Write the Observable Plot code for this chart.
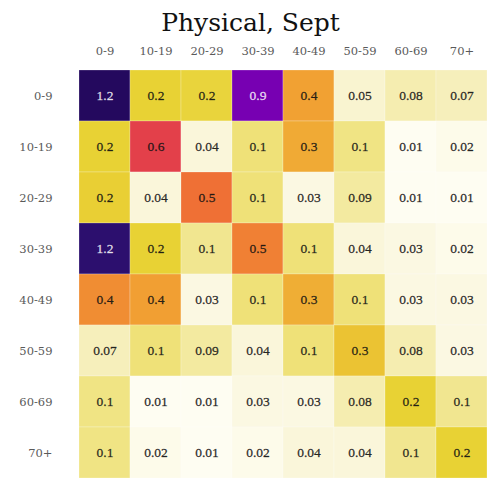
<!DOCTYPE html>
<html>
<head>
<meta charset="utf-8">
<script src="https://cdn.jsdelivr.net/npm/d3@7"></script>
<script src="https://cdn.jsdelivr.net/npm/@observablehq/plot@0.6"></script>
<style>
  html, body { margin: 0; padding: 0; background: #fff; }
  #title { font-family: "DejaVu Serif", serif; font-size: 25px; line-height: 38px; height: 38px; margin-top: 4px; text-align: center; color: #111; width: 501px; }
</style>
</head>
<body>
<div id="title">Physical, Sept</div>
<div id="chart"></div>
<script>
const ages = ["0-9", "10-19", "20-29", "30-39", "40-49", "50-59", "60-69", "70+"];
// one array per row (respondent age), columns = contact age
const row0_9   = [1.24, 0.2, 0.19, 0.9, 0.37, 0.05, 0.08, 0.07];
const row10_19 = [0.2, 0.6, 0.04, 0.12, 0.33, 0.11, 0.01, 0.02];
const row20_29 = [0.21, 0.04, 0.5, 0.12, 0.03, 0.09, 0.01, 0.01];
const row30_39 = [1.2, 0.2, 0.1, 0.47, 0.12, 0.04, 0.03, 0.02];
const row40_49 = [0.44, 0.38, 0.03, 0.12, 0.32, 0.12, 0.03, 0.03];
const row50_59 = [0.07, 0.12, 0.09, 0.04, 0.12, 0.26, 0.08, 0.03];
const row60_69 = [0.11, 0.01, 0.01, 0.03, 0.03, 0.08, 0.2, 0.1];
const row70p   = [0.11, 0.02, 0.01, 0.02, 0.04, 0.04, 0.1, 0.2];
const rows = [row0_9, row10_19, row20_29, row30_39, row40_49, row50_59, row60_69, row70p];

const colorStops  = [0, 0.04, 0.08, 0.1, 0.13, 0.2, 0.27, 0.33, 0.4, 0.45, 0.5, 0.6, 0.9, 1.2, 1.25];
const colorRange  = ["#fffffa", "#faf6da", "#f5edb0", "#f1e690", "#eedf6c", "#e8d234", "#ecc033", "#f0aa35", "#f29a32", "#f08a33", "#ef7035", "#e3404a", "#7700b2", "#2c0f6e", "#22085a"];

const cells = rows.flatMap((vals, i) => vals.map((v, j) => ({row: ages[i], col: ages[j], value: v})));
const fmt = v => v < 0.095 ? v.toFixed(2) : v.toFixed(1);
const dark = v => v > 0.7;

const chart = Plot.plot({
  width: 501,
  height: 436,
  marginTop: 28,
  marginBottom: 0,
  marginLeft: 77,
  marginRight: 13,
  style: {fontFamily: "DejaVu Serif, serif", fontSize: "11.5px", color: "#5a5a5a", background: "#fff"},
  x: {type: "band", domain: ages, padding: 0, axis: null},
  y: {type: "band", domain: ages, padding: 0, axis: null},
  color: {type: "linear", domain: colorStops, range: colorRange, interpolate: "rgb"},
  marks: [
    Plot.cell(cells, {x: "col", y: "row", fill: "value", inset: 0, stroke: "#fff", strokeWidth: 0.6, strokeOpacity: 0.4}),
    Plot.text(cells, {x: "col", y: "row", text: d => fmt(d.value), fontFamily: "Liberation Serif, serif", fontSize: 13.5,
      fill: d => dark(d.value) ? "white" : "#111", fillOpacity: d => dark(d.value) ? 0.82 : 0.88,
      stroke: d => dark(d.value) ? "white" : "#111", strokeWidth: 0.35, strokeOpacity: d => dark(d.value) ? 0.6 : 0.7}),
    Plot.axisX({anchor: "top", tickSize: 0, tickPadding: 16, label: null}),
    Plot.axisY({anchor: "left", tickSize: 0, tickPadding: 25, label: null})
  ]
});
document.getElementById("chart").appendChild(chart);
</script>
</body>
</html>
